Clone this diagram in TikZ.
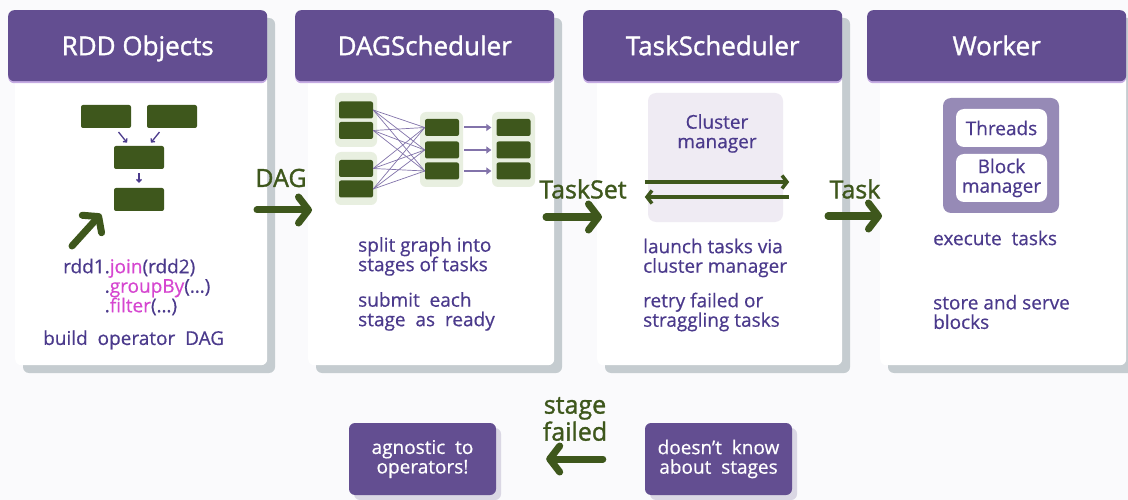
\documentclass[tikz,border=0pt]{standalone}
\usepackage{fontspec}
\setmainfont{Open Sans}[FakeBold=0.5]
\newfontfamily\headfont{Open Sans}[FakeBold=1.3]
\usetikzlibrary{arrows.meta,shadows}
\definecolor{hdr}{RGB}{99,78,145}
\definecolor{hdrline}{RGB}{196,170,226}
\definecolor{txt}{RGB}{75,58,140}
\definecolor{mgnt}{RGB}{214,70,208}
\definecolor{dkgreen}{RGB}{62,87,28}
\definecolor{ltgreen}{RGB}{232,239,224}
\definecolor{lav}{RGB}{239,235,243}
\definecolor{wgray}{RGB}{150,138,182}
\definecolor{shadowc}{RGB}{197,204,208}
\definecolor{notesh}{RGB}{218,215,228}
\definecolor{mesh}{RGB}{130,115,170}
\definecolor{bg}{RGB}{250,250,252}
\newcommand\kw[1]{\textcolor{mgnt}{#1}}
\begin{document}
\begin{tikzpicture}[
		x=1pt,
		y=-1pt,
		every node/.style={
				inner sep=0pt,
				font=\fontsize{19}{19.5}\selectfont
			},
		header/.style={
				anchor=north west,
				fill=hdr,
				text=white,
				rounded corners=6pt,
				minimum width=259pt,
				minimum height=71pt,
				text height=19pt,
				text depth=0pt,
				font=\headfont\fontsize{26}{30}\selectfont,
				drop shadow={shadow xshift=0pt, shadow yshift=-2pt, fill=hdrline, opacity=1}
			},
		card/.style={
				anchor=north west,
				fill=white,
				rounded corners=6pt,
				minimum height=290pt
			},
		op/.style={
				fill=dkgreen,
				rounded corners=2pt,
				minimum width=50pt,
				minimum height=23pt
			},
		stagebox/.style={
				op,
				minimum width=34pt,
				minimum height=17pt
			},
		group/.style={
				fill=ltgreen,
				rounded corners=6pt
			},
		txt/.style={
				anchor=west,
				align=left,
				text=txt
			},
		lbl/.style={
				text=dkgreen,
				font=\headfont\fontsize{25}{27}\selectfont
			},
		note/.style={
				fill=hdr,
				text=white,
				align=center,
				rounded corners=6pt,
				minimum width=147pt,
				minimum height=72pt,
				drop shadow={shadow xshift=5pt, shadow yshift=-5pt, fill=notesh, opacity=1}
			},
		bigarrow/.style={
				draw=dkgreen,
				line width=7pt,
				line cap=round,
				-{Straight Barb[length=10pt, width=26pt, round]}
			},
		callarrow/.style={
				draw=dkgreen,
				line width=3.5pt,
				-{Straight Barb[length=5pt, width=13pt]}
			},
		sarrow/.style={
				draw=txt,
				line width=1.3pt,
				-{Straight Barb[length=2.5pt, width=5pt]}
			}
	]
	\fill[bg] (0,0) rectangle (1128,500);
	\useasboundingbox (0,0) rectangle (1128,500);

	\foreach \px/\off/\nm/\ttl in {8/7/rdd/RDD Objects, 295/13/dag/DAGScheduler, 583/14/ts/TaskScheduler, 867/13/wk/Worker} {
		\fill[shadowc, rounded corners=6pt] (\px+\off+8,18) rectangle (\px+267,373);
		\node[card, minimum width={(259-\off)*1pt}] (\nm-body) at (\px+\off,75) {};
		\node[header] (\nm) at (\px,10) {\ttl};
	}

	\node[op] (r1) at (106,116.5) {};
	\node[op] (r2) at (172,116.5) {};
	\node[op] (r3) at (139,157.5) {};
	\node[op] (r4) at (139,199.5) {};
	\draw[sarrow, shorten <=5pt, shorten >=4pt] (r1) -- (r3);
	\draw[sarrow, shorten <=5pt, shorten >=4pt] (r2) -- (r3);
	\draw[sarrow, shorten <=4pt, shorten >=5pt] (r3) -- (r4);
	\coordinate (jointail) at (72,246);
	\coordinate (joinhead) at (101,214);
	\draw[bigarrow] (jointail) -- (joinhead);
	\node[txt] (code) at (63,287) {rdd1.\kw{join}(rdd2)\\\phantom{rdd1}.\kw{groupBy}(…)\\\phantom{rdd1}.\kw{filter}(…)};
	\node[txt] (build) at (43,340) {build\ \ operator\ \ DAG};

	\node[group, minimum width=42pt, minimum height=54pt] (g1) at (356,120) {};
	\node[group, minimum width=42pt, minimum height=53pt] (g2) at (356,178.5) {};
	\node[group, minimum width=43pt, minimum height=75pt] (g3) at (441.5,149.5) {};
	\node[group, minimum width=43pt, minimum height=75pt] (g4) at (513.5,149.5) {};
	\node[stagebox] (a1) at (356,110) {};
	\node[stagebox] (a2) at (356,130.5) {};
	\node[stagebox] (a3) at (356,168.5) {};
	\node[stagebox] (a4) at (356,189) {};
	\foreach \j/\yy in {1/127.5, 2/150, 3/171} {
		\node[stagebox] (b\j) at (442,\yy) {};
		\node[stagebox] (c\j) at (513.5,\yy) {};
		\draw[mesh, line width=2pt, shorten <=5pt, shorten >=5pt, -{Triangle[length=5pt, width=7pt]}] (b\j.east) -- (c\j.west);
	}
	\foreach \i in {1,...,4}
	\foreach \j in {1,2,3}
	\draw[mesh, line width=0.7pt] (a\i.east) -- (b\j.west);
	\node[txt] (split) at (358,256.5) {split graph into\\stages of tasks};
	\node[txt] (submit) at (358,311.5) {submit\ \ each\\stage\ \ as\ \ ready};

	\node[fill=lav, rounded corners=8pt, minimum width=135pt, minimum height=129pt] (cm) at (715.5,157.5) {};
	\node[text=txt, align=center] (cmtext) at (717,133.5) {Cluster\\manager};
	\draw[callarrow] ([shift={(-3pt,-24.5pt)}]cm.west) -- ([shift={(6pt,-24.5pt)}]cm.east);
	\draw[callarrow] ([shift={(6pt,-39.5pt)}]cm.east) -- ([shift={(-3pt,-39.5pt)}]cm.west);
	\node[txt] (launch) at (643,258) {launch tasks via\\cluster manager};
	\node[txt] (retry) at (643,312) {retry failed or\\straggling tasks};

	\node[fill=wgray, rounded corners=8pt, minimum width=116pt, minimum height=115pt] (wbox) at (1001,155.5) {};
	\node[fill=white, text=txt, rounded corners=8pt, minimum width=91pt, minimum height=38pt] (threads) at (1001.5,128) {Threads};
	\node[fill=white, text=txt, align=center, rounded corners=8pt, minimum width=91pt, minimum height=48pt] (blockmgr) at (1001.5,178) {Block\\manager};
	\node[txt] (exec) at (933,238) {execute\ \ tasks};
	\node[txt] (store) at (933,312) {store and serve\\blocks};

	\node[lbl] (daglbl) at (281,178) {DAG};
	\coordinate (dagtail) at (257,210);
	\coordinate (daghead) at (312,210);
	\draw[bigarrow] (dagtail) -- (daghead);
	\node[lbl] (tslbl) at (583,189) {TaskSet};
	\coordinate (tstail) at (546,217);
	\coordinate (tshead) at (602,217);
	\draw[bigarrow] (tstail) -- (tshead);
	\node[lbl] (tasklbl) at (855,189) {Task};
	\coordinate (tasktail) at (828,216);
	\coordinate (taskhead) at (882,216);
	\draw[bigarrow] (tasktail) -- (taskhead);

	\node[note] (agn) at (422.5,459) {agnostic\ \ to\\operators!};
	\node[note] (dkn) at (718.5,459) {doesn’t\ \ know\\about\ \ stages};
	\node[lbl, align=center] (faillbl) at (575,419) {stage\\failed};
	\draw[bigarrow, shorten <=42pt, shorten >=50pt] (dkn.west) -- (agn.east);
\end{tikzpicture}
\end{document}
